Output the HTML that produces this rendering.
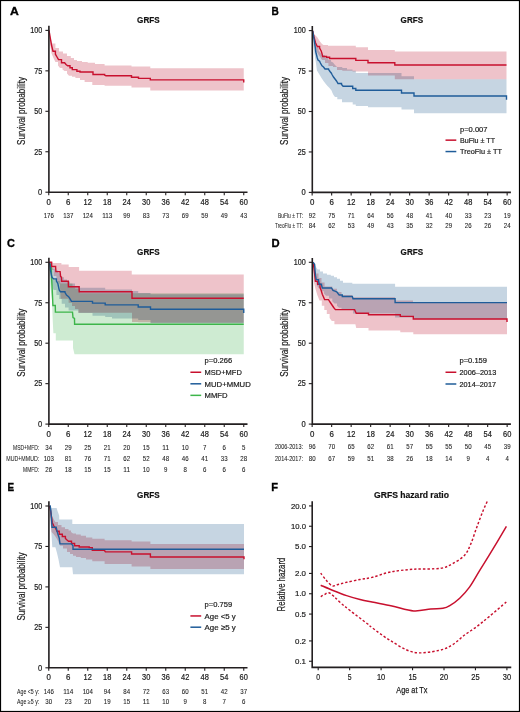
<!DOCTYPE html><html><head><meta charset="utf-8"><style>html,body{margin:0;padding:0;background:#fff}svg{display:block}text{font-family:"Liberation Sans",sans-serif}</style></head><body>
<svg width="520" height="712" viewBox="0 0 520 712">
<rect x="0" y="0" width="520" height="712" fill="#fff"/>
<text x="10.00" y="15.40" font-size="11.77" font-weight="bold" fill="#000" stroke="#000" stroke-width="0.35" textLength="8.80" lengthAdjust="spacingAndGlyphs">A</text>
<text x="137.10" y="22.70" font-size="9.88" font-weight="bold" fill="#111" stroke="#111" stroke-width="0.20" textLength="22.50" lengthAdjust="spacingAndGlyphs">GRFS</text>
<path d="M49.00 30.40 L50.50 38.00 L52.30 43.50 L55.40 43.50 L55.40 48.00 L59.00 48.00 L59.00 51.50 L63.00 51.50 L63.00 53.50 L67.00 53.50 L67.00 56.00 L70.80 56.00 L70.80 58.00 L74.00 58.00 L74.00 60.00 L77.00 60.00 L77.00 61.00 L82.00 61.00 L82.00 62.00 L87.70 62.00 L87.70 62.70 L95.00 62.70 L95.00 64.00 L104.60 64.00 L104.60 65.50 L131.50 65.50 L131.50 66.50 L150.30 66.50 L150.30 68.30 L243.75 68.30 L243.75 68.30 L243.75 90.40 L243.75 90.40 L150.30 90.40 L150.30 87.60 L131.50 87.60 L131.50 85.80 L104.60 85.80 L104.60 85.00 L92.30 85.00 L92.30 82.00 L84.60 82.00 L84.60 80.00 L80.00 80.00 L80.00 78.00 L75.40 78.00 L75.40 76.80 L72.00 76.80 L72.00 75.80 L69.00 75.80 L67.00 73.50 L67.00 71.00 L64.60 71.00 L62.50 69.50 L62.50 68.00 L60.00 68.00 L58.00 65.50 L58.00 62.00 L55.40 62.00 L53.50 58.00 L51.50 53.50 L50.20 45.00 L49.00 30.40 Z" fill="#EEC3CA" style="mix-blend-mode:multiply"/>
<path d="M49.00 30.40L50.30 38.00L51.50 45.00L53.00 51.20H55.40V54.20L57.00 57.00L58.50 59.60H61.50V62.70H64.60V62.70L66.00 64.50L67.70 65.80H70.00V67.80H72.30V69.60H76.90V71.20H80.00V72.00H89.20V72.00H93.00V74.50H104.60V75.00L106.00 75.80H131.50V75.80H131.50V77.30H138.50V78.40H150.30V79.90H243.75V79.90H243.75V82.50" fill="none" stroke="#C8102E" stroke-width="1.40"/>
<path d="M48.90 25.80 V192.20 H247.50" fill="none" stroke="#231F20" stroke-width="1.6"/>
<path d="M45.40 30.40 H48.90" stroke="#231F20" stroke-width="1.1"/>
<text x="30.30" y="33.20" font-size="8.14" font-weight="normal" fill="#1c1c1c" stroke="#1c1c1c" stroke-width="0.20" textLength="12.00" lengthAdjust="spacingAndGlyphs">100</text>
<path d="M45.40 70.85 H48.90" stroke="#231F20" stroke-width="1.1"/>
<text x="34.30" y="73.65" font-size="8.14" font-weight="normal" fill="#1c1c1c" stroke="#1c1c1c" stroke-width="0.20" textLength="8.00" lengthAdjust="spacingAndGlyphs">75</text>
<path d="M45.40 111.30 H48.90" stroke="#231F20" stroke-width="1.1"/>
<text x="34.30" y="114.10" font-size="8.14" font-weight="normal" fill="#1c1c1c" stroke="#1c1c1c" stroke-width="0.20" textLength="8.00" lengthAdjust="spacingAndGlyphs">50</text>
<path d="M45.40 151.75 H48.90" stroke="#231F20" stroke-width="1.1"/>
<text x="34.30" y="154.55" font-size="8.14" font-weight="normal" fill="#1c1c1c" stroke="#1c1c1c" stroke-width="0.20" textLength="8.00" lengthAdjust="spacingAndGlyphs">25</text>
<path d="M45.40 192.20 H48.90" stroke="#231F20" stroke-width="1.1"/>
<text x="38.10" y="195.00" font-size="8.14" font-weight="normal" fill="#1c1c1c" stroke="#1c1c1c" stroke-width="0.20" textLength="4.20" lengthAdjust="spacingAndGlyphs">0</text>
<path d="M48.75 192.20 V195.20" stroke="#231F20" stroke-width="1.1"/>
<text x="46.55" y="204.80" font-size="8.14" font-weight="normal" fill="#1c1c1c" stroke="#1c1c1c" stroke-width="0.20" textLength="4.40" lengthAdjust="spacingAndGlyphs">0</text>
<path d="M68.25 192.20 V195.20" stroke="#231F20" stroke-width="1.1"/>
<text x="66.05" y="204.80" font-size="8.14" font-weight="normal" fill="#1c1c1c" stroke="#1c1c1c" stroke-width="0.20" textLength="4.40" lengthAdjust="spacingAndGlyphs">6</text>
<path d="M87.75 192.20 V195.20" stroke="#231F20" stroke-width="1.1"/>
<text x="83.60" y="204.80" font-size="8.14" font-weight="normal" fill="#1c1c1c" stroke="#1c1c1c" stroke-width="0.20" textLength="8.30" lengthAdjust="spacingAndGlyphs">12</text>
<path d="M107.25 192.20 V195.20" stroke="#231F20" stroke-width="1.1"/>
<text x="103.10" y="204.80" font-size="8.14" font-weight="normal" fill="#1c1c1c" stroke="#1c1c1c" stroke-width="0.20" textLength="8.30" lengthAdjust="spacingAndGlyphs">18</text>
<path d="M126.75 192.20 V195.20" stroke="#231F20" stroke-width="1.1"/>
<text x="122.60" y="204.80" font-size="8.14" font-weight="normal" fill="#1c1c1c" stroke="#1c1c1c" stroke-width="0.20" textLength="8.30" lengthAdjust="spacingAndGlyphs">24</text>
<path d="M146.25 192.20 V195.20" stroke="#231F20" stroke-width="1.1"/>
<text x="142.10" y="204.80" font-size="8.14" font-weight="normal" fill="#1c1c1c" stroke="#1c1c1c" stroke-width="0.20" textLength="8.30" lengthAdjust="spacingAndGlyphs">30</text>
<path d="M165.75 192.20 V195.20" stroke="#231F20" stroke-width="1.1"/>
<text x="161.60" y="204.80" font-size="8.14" font-weight="normal" fill="#1c1c1c" stroke="#1c1c1c" stroke-width="0.20" textLength="8.30" lengthAdjust="spacingAndGlyphs">36</text>
<path d="M185.25 192.20 V195.20" stroke="#231F20" stroke-width="1.1"/>
<text x="181.10" y="204.80" font-size="8.14" font-weight="normal" fill="#1c1c1c" stroke="#1c1c1c" stroke-width="0.20" textLength="8.30" lengthAdjust="spacingAndGlyphs">42</text>
<path d="M204.75 192.20 V195.20" stroke="#231F20" stroke-width="1.1"/>
<text x="200.60" y="204.80" font-size="8.14" font-weight="normal" fill="#1c1c1c" stroke="#1c1c1c" stroke-width="0.20" textLength="8.30" lengthAdjust="spacingAndGlyphs">48</text>
<path d="M224.25 192.20 V195.20" stroke="#231F20" stroke-width="1.1"/>
<text x="220.10" y="204.80" font-size="8.14" font-weight="normal" fill="#1c1c1c" stroke="#1c1c1c" stroke-width="0.20" textLength="8.30" lengthAdjust="spacingAndGlyphs">54</text>
<path d="M243.75 192.20 V195.20" stroke="#231F20" stroke-width="1.1"/>
<text x="239.60" y="204.80" font-size="8.14" font-weight="normal" fill="#1c1c1c" stroke="#1c1c1c" stroke-width="0.20" textLength="8.30" lengthAdjust="spacingAndGlyphs">60</text>
<text transform="translate(24.60 145.00) rotate(-90)" x="0" y="0" font-size="10.17" fill="#1c1c1c" stroke="#1c1c1c" stroke-width="0.20" textLength="68.10" lengthAdjust="spacingAndGlyphs">Survival probability</text>
<text x="43.65" y="217.90" font-size="6.69" font-weight="normal" fill="#1c1c1c" stroke="#1c1c1c" stroke-width="0.08" textLength="10.20" lengthAdjust="spacingAndGlyphs">176</text>
<text x="63.15" y="217.90" font-size="6.69" font-weight="normal" fill="#1c1c1c" stroke="#1c1c1c" stroke-width="0.08" textLength="10.20" lengthAdjust="spacingAndGlyphs">137</text>
<text x="82.65" y="217.90" font-size="6.69" font-weight="normal" fill="#1c1c1c" stroke="#1c1c1c" stroke-width="0.08" textLength="10.20" lengthAdjust="spacingAndGlyphs">124</text>
<text x="102.15" y="217.90" font-size="6.69" font-weight="normal" fill="#1c1c1c" stroke="#1c1c1c" stroke-width="0.08" textLength="10.20" lengthAdjust="spacingAndGlyphs">113</text>
<text x="123.35" y="217.90" font-size="6.69" font-weight="normal" fill="#1c1c1c" stroke="#1c1c1c" stroke-width="0.08" textLength="6.80" lengthAdjust="spacingAndGlyphs">99</text>
<text x="142.85" y="217.90" font-size="6.69" font-weight="normal" fill="#1c1c1c" stroke="#1c1c1c" stroke-width="0.08" textLength="6.80" lengthAdjust="spacingAndGlyphs">83</text>
<text x="162.35" y="217.90" font-size="6.69" font-weight="normal" fill="#1c1c1c" stroke="#1c1c1c" stroke-width="0.08" textLength="6.80" lengthAdjust="spacingAndGlyphs">73</text>
<text x="181.85" y="217.90" font-size="6.69" font-weight="normal" fill="#1c1c1c" stroke="#1c1c1c" stroke-width="0.08" textLength="6.80" lengthAdjust="spacingAndGlyphs">69</text>
<text x="201.35" y="217.90" font-size="6.69" font-weight="normal" fill="#1c1c1c" stroke="#1c1c1c" stroke-width="0.08" textLength="6.80" lengthAdjust="spacingAndGlyphs">59</text>
<text x="220.85" y="217.90" font-size="6.69" font-weight="normal" fill="#1c1c1c" stroke="#1c1c1c" stroke-width="0.08" textLength="6.80" lengthAdjust="spacingAndGlyphs">49</text>
<text x="240.35" y="217.90" font-size="6.69" font-weight="normal" fill="#1c1c1c" stroke="#1c1c1c" stroke-width="0.08" textLength="6.80" lengthAdjust="spacingAndGlyphs">43</text>
<text x="271.50" y="15.20" font-size="11.77" font-weight="bold" fill="#000" stroke="#000" stroke-width="0.35" textLength="7.30" lengthAdjust="spacingAndGlyphs">B</text>
<text x="400.60" y="22.70" font-size="9.88" font-weight="bold" fill="#111" stroke="#111" stroke-width="0.20" textLength="22.50" lengthAdjust="spacingAndGlyphs">GRFS</text>
<path d="M312.70 30.80 L313.50 34.00 L315.50 35.50 L317.30 37.30 L319.00 40.00 L320.40 42.00 L322.00 44.00 L323.50 45.00 L328.00 45.00 L328.00 45.80 L355.80 45.80 L355.80 47.30 L368.00 47.30 L368.00 50.00 L394.80 50.00 L394.80 51.60 L506.50 51.60 L506.50 51.60 L506.50 79.20 L506.50 79.20 L394.80 79.20 L394.80 75.40 L368.00 75.40 L368.00 71.50 L352.50 71.50 L352.50 70.80 L342.30 70.80 L342.30 70.00 L337.00 70.00 L337.00 67.00 L333.00 67.00 L333.00 66.00 L328.40 66.00 L328.40 63.00 L325.00 63.00 L325.00 60.00 L322.00 60.00 L319.80 56.50 L318.00 54.00 L316.00 50.00 L315.00 47.00 L314.20 40.00 L312.70 30.80 Z" fill="#EEC3CA" style="mix-blend-mode:multiply"/>
<path d="M312.70 30.80 L314.50 38.00 L316.30 46.90 L318.60 46.90 L318.60 50.80 L319.80 52.00 L322.00 55.00 L325.00 55.00 L325.00 58.00 L328.40 58.00 L328.40 60.00 L331.00 60.00 L331.00 61.50 L333.00 62.50 L335.00 65.00 L337.00 67.00 L342.30 67.00 L342.30 68.00 L347.00 68.00 L347.00 69.50 L352.50 69.50 L352.50 70.80 L355.80 70.80 L355.80 73.10 L401.50 73.10 L401.50 76.20 L414.00 76.20 L414.00 79.20 L506.50 79.20 L506.50 79.20 L506.50 113.20 L506.50 113.20 L414.00 113.20 L414.00 109.50 L401.50 109.50 L401.50 107.30 L368.00 107.30 L368.00 106.00 L355.80 106.00 L355.80 104.60 L352.70 104.60 L352.70 102.30 L342.00 102.30 L342.00 99.20 L337.30 99.20 L337.30 97.00 L335.00 97.00 L333.50 95.00 L332.50 93.00 L331.50 90.40 L329.50 88.00 L327.50 86.00 L325.40 83.50 L323.50 81.00 L321.50 78.00 L320.00 75.50 L318.50 73.00 L316.90 70.40 L316.20 65.00 L315.40 59.60 L314.20 52.00 L313.30 45.00 L312.70 30.80 Z" fill="#C6D5E2" style="mix-blend-mode:multiply"/>
<path d="M312.70 30.80L314.00 37.00L315.50 42.70L317.30 46.50H319.60V48.00L321.20 51.00L322.10 54.00L322.70 56.50H326.50V57.30H329.60V58.50H355.80V60.40H368.00V62.80H394.80V65.00H506.50V65.00" fill="none" stroke="#C8102E" stroke-width="1.40"/>
<path d="M312.70 30.80L313.60 36.00L314.50 41.90L315.20 47.00L315.80 52.00L317.30 58.00L318.00 60.00L319.60 61.20L320.40 63.00L322.00 65.80L323.50 67.00L325.00 69.00H328.50V69.30L330.00 71.50L331.20 73.00L332.30 75.00L333.50 77.00L335.00 79.00L336.50 81.00L338.00 83.50H341.50V84.50L343.10 86.30H352.70V88.50H355.80V90.20H401.50V93.00H414.00V96.00H506.50V96.00H506.50V99.80" fill="none" stroke="#1F5C99" stroke-width="1.40"/>
<path d="M312.30 26.00 V192.40 H510.90" fill="none" stroke="#231F20" stroke-width="1.6"/>
<path d="M308.80 30.60 H312.30" stroke="#231F20" stroke-width="1.1"/>
<text x="293.70" y="33.40" font-size="8.14" font-weight="normal" fill="#1c1c1c" stroke="#1c1c1c" stroke-width="0.20" textLength="12.00" lengthAdjust="spacingAndGlyphs">100</text>
<path d="M308.80 71.05 H312.30" stroke="#231F20" stroke-width="1.1"/>
<text x="297.70" y="73.85" font-size="8.14" font-weight="normal" fill="#1c1c1c" stroke="#1c1c1c" stroke-width="0.20" textLength="8.00" lengthAdjust="spacingAndGlyphs">75</text>
<path d="M308.80 111.50 H312.30" stroke="#231F20" stroke-width="1.1"/>
<text x="297.70" y="114.30" font-size="8.14" font-weight="normal" fill="#1c1c1c" stroke="#1c1c1c" stroke-width="0.20" textLength="8.00" lengthAdjust="spacingAndGlyphs">50</text>
<path d="M308.80 151.95 H312.30" stroke="#231F20" stroke-width="1.1"/>
<text x="297.70" y="154.75" font-size="8.14" font-weight="normal" fill="#1c1c1c" stroke="#1c1c1c" stroke-width="0.20" textLength="8.00" lengthAdjust="spacingAndGlyphs">25</text>
<path d="M308.80 192.40 H312.30" stroke="#231F20" stroke-width="1.1"/>
<text x="301.50" y="195.20" font-size="8.14" font-weight="normal" fill="#1c1c1c" stroke="#1c1c1c" stroke-width="0.20" textLength="4.20" lengthAdjust="spacingAndGlyphs">0</text>
<path d="M312.15 192.40 V195.40" stroke="#231F20" stroke-width="1.1"/>
<text x="309.95" y="205.00" font-size="8.14" font-weight="normal" fill="#1c1c1c" stroke="#1c1c1c" stroke-width="0.20" textLength="4.40" lengthAdjust="spacingAndGlyphs">0</text>
<path d="M331.65 192.40 V195.40" stroke="#231F20" stroke-width="1.1"/>
<text x="329.45" y="205.00" font-size="8.14" font-weight="normal" fill="#1c1c1c" stroke="#1c1c1c" stroke-width="0.20" textLength="4.40" lengthAdjust="spacingAndGlyphs">6</text>
<path d="M351.15 192.40 V195.40" stroke="#231F20" stroke-width="1.1"/>
<text x="347.00" y="205.00" font-size="8.14" font-weight="normal" fill="#1c1c1c" stroke="#1c1c1c" stroke-width="0.20" textLength="8.30" lengthAdjust="spacingAndGlyphs">12</text>
<path d="M370.65 192.40 V195.40" stroke="#231F20" stroke-width="1.1"/>
<text x="366.50" y="205.00" font-size="8.14" font-weight="normal" fill="#1c1c1c" stroke="#1c1c1c" stroke-width="0.20" textLength="8.30" lengthAdjust="spacingAndGlyphs">18</text>
<path d="M390.15 192.40 V195.40" stroke="#231F20" stroke-width="1.1"/>
<text x="386.00" y="205.00" font-size="8.14" font-weight="normal" fill="#1c1c1c" stroke="#1c1c1c" stroke-width="0.20" textLength="8.30" lengthAdjust="spacingAndGlyphs">24</text>
<path d="M409.65 192.40 V195.40" stroke="#231F20" stroke-width="1.1"/>
<text x="405.50" y="205.00" font-size="8.14" font-weight="normal" fill="#1c1c1c" stroke="#1c1c1c" stroke-width="0.20" textLength="8.30" lengthAdjust="spacingAndGlyphs">30</text>
<path d="M429.15 192.40 V195.40" stroke="#231F20" stroke-width="1.1"/>
<text x="425.00" y="205.00" font-size="8.14" font-weight="normal" fill="#1c1c1c" stroke="#1c1c1c" stroke-width="0.20" textLength="8.30" lengthAdjust="spacingAndGlyphs">36</text>
<path d="M448.65 192.40 V195.40" stroke="#231F20" stroke-width="1.1"/>
<text x="444.50" y="205.00" font-size="8.14" font-weight="normal" fill="#1c1c1c" stroke="#1c1c1c" stroke-width="0.20" textLength="8.30" lengthAdjust="spacingAndGlyphs">42</text>
<path d="M468.15 192.40 V195.40" stroke="#231F20" stroke-width="1.1"/>
<text x="464.00" y="205.00" font-size="8.14" font-weight="normal" fill="#1c1c1c" stroke="#1c1c1c" stroke-width="0.20" textLength="8.30" lengthAdjust="spacingAndGlyphs">48</text>
<path d="M487.65 192.40 V195.40" stroke="#231F20" stroke-width="1.1"/>
<text x="483.50" y="205.00" font-size="8.14" font-weight="normal" fill="#1c1c1c" stroke="#1c1c1c" stroke-width="0.20" textLength="8.30" lengthAdjust="spacingAndGlyphs">54</text>
<path d="M507.15 192.40 V195.40" stroke="#231F20" stroke-width="1.1"/>
<text x="503.00" y="205.00" font-size="8.14" font-weight="normal" fill="#1c1c1c" stroke="#1c1c1c" stroke-width="0.20" textLength="8.30" lengthAdjust="spacingAndGlyphs">60</text>
<text transform="translate(288.00 145.00) rotate(-90)" x="0" y="0" font-size="10.17" fill="#1c1c1c" stroke="#1c1c1c" stroke-width="0.20" textLength="68.10" lengthAdjust="spacingAndGlyphs">Survival probability</text>
<text x="460.00" y="131.50" font-size="7.56" font-weight="normal" fill="#1c1c1c" stroke="#1c1c1c" stroke-width="0.20" textLength="27.50" lengthAdjust="spacingAndGlyphs">p=0.007</text>
<path d="M445.50 140.15 H456.30" stroke="#C8102E" stroke-width="1.5"/>
<text x="460.00" y="142.90" font-size="7.70" font-weight="normal" fill="#1c1c1c" stroke="#1c1c1c" stroke-width="0.20" textLength="35.00" lengthAdjust="spacingAndGlyphs">BuFlu ± TT</text>
<path d="M445.50 151.55 H456.30" stroke="#1F5C99" stroke-width="1.5"/>
<text x="460.00" y="154.30" font-size="7.70" font-weight="normal" fill="#1c1c1c" stroke="#1c1c1c" stroke-width="0.20" textLength="41.90" lengthAdjust="spacingAndGlyphs">TreoFlu ± TT</text>
<text x="308.75" y="217.90" font-size="6.69" font-weight="normal" fill="#1c1c1c" stroke="#1c1c1c" stroke-width="0.08" textLength="6.80" lengthAdjust="spacingAndGlyphs">92</text>
<text x="328.25" y="217.90" font-size="6.69" font-weight="normal" fill="#1c1c1c" stroke="#1c1c1c" stroke-width="0.08" textLength="6.80" lengthAdjust="spacingAndGlyphs">75</text>
<text x="347.75" y="217.90" font-size="6.69" font-weight="normal" fill="#1c1c1c" stroke="#1c1c1c" stroke-width="0.08" textLength="6.80" lengthAdjust="spacingAndGlyphs">71</text>
<text x="367.25" y="217.90" font-size="6.69" font-weight="normal" fill="#1c1c1c" stroke="#1c1c1c" stroke-width="0.08" textLength="6.80" lengthAdjust="spacingAndGlyphs">64</text>
<text x="386.75" y="217.90" font-size="6.69" font-weight="normal" fill="#1c1c1c" stroke="#1c1c1c" stroke-width="0.08" textLength="6.80" lengthAdjust="spacingAndGlyphs">56</text>
<text x="406.25" y="217.90" font-size="6.69" font-weight="normal" fill="#1c1c1c" stroke="#1c1c1c" stroke-width="0.08" textLength="6.80" lengthAdjust="spacingAndGlyphs">48</text>
<text x="425.75" y="217.90" font-size="6.69" font-weight="normal" fill="#1c1c1c" stroke="#1c1c1c" stroke-width="0.08" textLength="6.80" lengthAdjust="spacingAndGlyphs">41</text>
<text x="445.25" y="217.90" font-size="6.69" font-weight="normal" fill="#1c1c1c" stroke="#1c1c1c" stroke-width="0.08" textLength="6.80" lengthAdjust="spacingAndGlyphs">40</text>
<text x="464.75" y="217.90" font-size="6.69" font-weight="normal" fill="#1c1c1c" stroke="#1c1c1c" stroke-width="0.08" textLength="6.80" lengthAdjust="spacingAndGlyphs">33</text>
<text x="484.25" y="217.90" font-size="6.69" font-weight="normal" fill="#1c1c1c" stroke="#1c1c1c" stroke-width="0.08" textLength="6.80" lengthAdjust="spacingAndGlyphs">23</text>
<text x="503.75" y="217.90" font-size="6.69" font-weight="normal" fill="#1c1c1c" stroke="#1c1c1c" stroke-width="0.08" textLength="6.80" lengthAdjust="spacingAndGlyphs">19</text>
<text x="278.00" y="217.90" font-size="6.35" font-weight="normal" fill="#1c1c1c" stroke="#1c1c1c" stroke-width="0.05" textLength="25.00" lengthAdjust="spacingAndGlyphs">BuFlu ± TT:</text>
<text x="308.75" y="228.10" font-size="6.69" font-weight="normal" fill="#1c1c1c" stroke="#1c1c1c" stroke-width="0.08" textLength="6.80" lengthAdjust="spacingAndGlyphs">84</text>
<text x="328.25" y="228.10" font-size="6.69" font-weight="normal" fill="#1c1c1c" stroke="#1c1c1c" stroke-width="0.08" textLength="6.80" lengthAdjust="spacingAndGlyphs">62</text>
<text x="347.75" y="228.10" font-size="6.69" font-weight="normal" fill="#1c1c1c" stroke="#1c1c1c" stroke-width="0.08" textLength="6.80" lengthAdjust="spacingAndGlyphs">53</text>
<text x="367.25" y="228.10" font-size="6.69" font-weight="normal" fill="#1c1c1c" stroke="#1c1c1c" stroke-width="0.08" textLength="6.80" lengthAdjust="spacingAndGlyphs">49</text>
<text x="386.75" y="228.10" font-size="6.69" font-weight="normal" fill="#1c1c1c" stroke="#1c1c1c" stroke-width="0.08" textLength="6.80" lengthAdjust="spacingAndGlyphs">43</text>
<text x="406.25" y="228.10" font-size="6.69" font-weight="normal" fill="#1c1c1c" stroke="#1c1c1c" stroke-width="0.08" textLength="6.80" lengthAdjust="spacingAndGlyphs">35</text>
<text x="425.75" y="228.10" font-size="6.69" font-weight="normal" fill="#1c1c1c" stroke="#1c1c1c" stroke-width="0.08" textLength="6.80" lengthAdjust="spacingAndGlyphs">32</text>
<text x="445.25" y="228.10" font-size="6.69" font-weight="normal" fill="#1c1c1c" stroke="#1c1c1c" stroke-width="0.08" textLength="6.80" lengthAdjust="spacingAndGlyphs">29</text>
<text x="464.75" y="228.10" font-size="6.69" font-weight="normal" fill="#1c1c1c" stroke="#1c1c1c" stroke-width="0.08" textLength="6.80" lengthAdjust="spacingAndGlyphs">26</text>
<text x="484.25" y="228.10" font-size="6.69" font-weight="normal" fill="#1c1c1c" stroke="#1c1c1c" stroke-width="0.08" textLength="6.80" lengthAdjust="spacingAndGlyphs">26</text>
<text x="503.75" y="228.10" font-size="6.69" font-weight="normal" fill="#1c1c1c" stroke="#1c1c1c" stroke-width="0.08" textLength="6.80" lengthAdjust="spacingAndGlyphs">24</text>
<text x="275.00" y="228.10" font-size="6.35" font-weight="normal" fill="#1c1c1c" stroke="#1c1c1c" stroke-width="0.05" textLength="28.00" lengthAdjust="spacingAndGlyphs">TreoFlu ± TT:</text>
<text x="6.90" y="246.90" font-size="11.77" font-weight="bold" fill="#000" stroke="#000" stroke-width="0.35" textLength="7.90" lengthAdjust="spacingAndGlyphs">C</text>
<text x="137.10" y="254.50" font-size="9.88" font-weight="bold" fill="#111" stroke="#111" stroke-width="0.20" textLength="22.50" lengthAdjust="spacingAndGlyphs">GRFS</text>
<path d="M49.00 262.20 L50.50 262.60 L52.90 262.60 L52.90 263.00 L61.40 263.00 L61.40 264.50 L68.70 264.50 L68.70 267.10 L79.10 267.10 L79.10 270.70 L131.75 270.70 L131.75 274.50 L243.75 274.50 L243.75 274.50 L243.75 322.70 L243.75 322.70 L150.50 322.70 L150.50 322.30 L138.20 322.30 L138.20 322.00 L132.00 322.00 L132.00 312.70 L78.40 312.70 L78.40 309.00 L75.00 309.00 L75.00 306.00 L72.00 306.00 L72.00 302.80 L68.60 302.80 L68.60 298.80 L60.70 298.80 L59.80 284.00 L58.00 282.00 L56.40 280.00 L56.40 276.00 L53.60 276.00 L53.60 270.00 L51.40 270.00 L50.00 265.00 L49.00 262.20 Z" fill="#EEC3CA" style="mix-blend-mode:multiply"/>
<path d="M49.00 262.20 L50.50 264.00 L51.70 266.50 L53.00 268.50 L55.60 268.50 L55.60 270.50 L58.00 270.50 L58.00 272.50 L60.10 274.00 L61.40 277.20 L64.00 277.20 L64.00 279.50 L67.00 279.50 L67.00 281.50 L70.00 281.50 L70.00 283.50 L75.00 283.50 L75.00 286.00 L80.00 286.00 L80.00 287.70 L92.50 287.70 L92.50 287.70 L105.20 287.70 L105.20 289.60 L132.00 289.60 L132.00 291.00 L138.20 291.00 L138.20 293.00 L150.50 293.00 L150.50 294.20 L243.75 294.20 L243.75 294.20 L243.75 323.20 L243.75 323.20 L150.50 323.20 L150.50 320.00 L138.20 320.00 L138.20 318.50 L112.00 318.50 L112.00 317.00 L105.20 317.00 L105.20 315.80 L92.50 315.80 L92.50 313.00 L78.40 313.00 L78.40 310.60 L68.60 310.60 L68.60 307.50 L65.00 307.50 L65.00 303.80 L61.70 303.80 L61.70 299.00 L59.20 299.00 L59.20 295.00 L56.40 295.00 L56.40 290.00 L53.60 290.00 L51.90 285.00 L50.60 278.00 L49.80 270.00 L49.00 262.20 Z" fill="#C6D5E2" style="mix-blend-mode:multiply"/>
<path d="M49.00 262.20 L50.50 268.00 L51.90 275.00 L53.60 279.00 L56.40 279.00 L56.40 281.00 L59.80 281.00 L59.80 283.00 L60.60 283.40 L72.50 283.40 L72.50 287.20 L75.20 287.20 L75.20 288.80 L80.00 288.80 L80.00 293.30 L243.75 293.30 L243.75 294.00 L243.75 354.30 L243.75 354.30 L74.50 354.30 L73.00 348.00 L73.00 340.60 L55.80 340.60 L55.80 333.20 L53.40 333.20 L52.80 322.00 L52.30 310.00 L51.90 299.80 L51.20 294.00 L50.50 287.00 L49.80 275.00 L49.00 262.20 Z" fill="#CEEBD2" style="mix-blend-mode:multiply"/>
<path d="M49.20 262.20L50.00 264.00L51.40 268.20L51.70 278.90L52.50 295.70L52.90 305.50H55.30V305.70L55.40 312.10H72.50V312.10L73.00 317.50L74.50 318.50L74.60 324.20H243.75V324.20" fill="none" stroke="#3DB54A" stroke-width="1.40"/>
<path d="M49.20 262.20L49.70 262.50L50.50 270.40L51.90 277.20L53.60 278.90H56.40V281.10L57.80 283.30L59.20 290.00L60.40 291.80H64.90V292.30L66.50 295.10L68.00 296.30L69.00 297.20L70.20 299.20L71.50 301.40H92.50V303.10H105.20V304.90H138.20V307.00H150.50V309.20H243.75V309.20H243.75V313.00" fill="none" stroke="#1F5C99" stroke-width="1.40"/>
<path d="M49.20 262.20H51.60V262.20L51.70 266.50H55.60V266.80L55.90 271.60H60.10V271.60L60.60 276.60L61.50 277.20L61.60 281.20H68.30V281.20L68.40 286.80H79.10V286.80L79.20 291.70H132.00V291.70H132.00V298.30H243.75V298.30" fill="none" stroke="#C8102E" stroke-width="1.40"/>
<path d="M48.90 257.70 V424.10 H247.50" fill="none" stroke="#231F20" stroke-width="1.6"/>
<path d="M45.40 262.30 H48.90" stroke="#231F20" stroke-width="1.1"/>
<text x="30.30" y="265.10" font-size="8.14" font-weight="normal" fill="#1c1c1c" stroke="#1c1c1c" stroke-width="0.20" textLength="12.00" lengthAdjust="spacingAndGlyphs">100</text>
<path d="M45.40 302.75 H48.90" stroke="#231F20" stroke-width="1.1"/>
<text x="34.30" y="305.55" font-size="8.14" font-weight="normal" fill="#1c1c1c" stroke="#1c1c1c" stroke-width="0.20" textLength="8.00" lengthAdjust="spacingAndGlyphs">75</text>
<path d="M45.40 343.20 H48.90" stroke="#231F20" stroke-width="1.1"/>
<text x="34.30" y="346.00" font-size="8.14" font-weight="normal" fill="#1c1c1c" stroke="#1c1c1c" stroke-width="0.20" textLength="8.00" lengthAdjust="spacingAndGlyphs">50</text>
<path d="M45.40 383.65 H48.90" stroke="#231F20" stroke-width="1.1"/>
<text x="34.30" y="386.45" font-size="8.14" font-weight="normal" fill="#1c1c1c" stroke="#1c1c1c" stroke-width="0.20" textLength="8.00" lengthAdjust="spacingAndGlyphs">25</text>
<path d="M45.40 424.10 H48.90" stroke="#231F20" stroke-width="1.1"/>
<text x="38.10" y="426.90" font-size="8.14" font-weight="normal" fill="#1c1c1c" stroke="#1c1c1c" stroke-width="0.20" textLength="4.20" lengthAdjust="spacingAndGlyphs">0</text>
<path d="M48.75 424.10 V427.10" stroke="#231F20" stroke-width="1.1"/>
<text x="46.55" y="436.70" font-size="8.14" font-weight="normal" fill="#1c1c1c" stroke="#1c1c1c" stroke-width="0.20" textLength="4.40" lengthAdjust="spacingAndGlyphs">0</text>
<path d="M68.25 424.10 V427.10" stroke="#231F20" stroke-width="1.1"/>
<text x="66.05" y="436.70" font-size="8.14" font-weight="normal" fill="#1c1c1c" stroke="#1c1c1c" stroke-width="0.20" textLength="4.40" lengthAdjust="spacingAndGlyphs">6</text>
<path d="M87.75 424.10 V427.10" stroke="#231F20" stroke-width="1.1"/>
<text x="83.60" y="436.70" font-size="8.14" font-weight="normal" fill="#1c1c1c" stroke="#1c1c1c" stroke-width="0.20" textLength="8.30" lengthAdjust="spacingAndGlyphs">12</text>
<path d="M107.25 424.10 V427.10" stroke="#231F20" stroke-width="1.1"/>
<text x="103.10" y="436.70" font-size="8.14" font-weight="normal" fill="#1c1c1c" stroke="#1c1c1c" stroke-width="0.20" textLength="8.30" lengthAdjust="spacingAndGlyphs">18</text>
<path d="M126.75 424.10 V427.10" stroke="#231F20" stroke-width="1.1"/>
<text x="122.60" y="436.70" font-size="8.14" font-weight="normal" fill="#1c1c1c" stroke="#1c1c1c" stroke-width="0.20" textLength="8.30" lengthAdjust="spacingAndGlyphs">24</text>
<path d="M146.25 424.10 V427.10" stroke="#231F20" stroke-width="1.1"/>
<text x="142.10" y="436.70" font-size="8.14" font-weight="normal" fill="#1c1c1c" stroke="#1c1c1c" stroke-width="0.20" textLength="8.30" lengthAdjust="spacingAndGlyphs">30</text>
<path d="M165.75 424.10 V427.10" stroke="#231F20" stroke-width="1.1"/>
<text x="161.60" y="436.70" font-size="8.14" font-weight="normal" fill="#1c1c1c" stroke="#1c1c1c" stroke-width="0.20" textLength="8.30" lengthAdjust="spacingAndGlyphs">36</text>
<path d="M185.25 424.10 V427.10" stroke="#231F20" stroke-width="1.1"/>
<text x="181.10" y="436.70" font-size="8.14" font-weight="normal" fill="#1c1c1c" stroke="#1c1c1c" stroke-width="0.20" textLength="8.30" lengthAdjust="spacingAndGlyphs">42</text>
<path d="M204.75 424.10 V427.10" stroke="#231F20" stroke-width="1.1"/>
<text x="200.60" y="436.70" font-size="8.14" font-weight="normal" fill="#1c1c1c" stroke="#1c1c1c" stroke-width="0.20" textLength="8.30" lengthAdjust="spacingAndGlyphs">48</text>
<path d="M224.25 424.10 V427.10" stroke="#231F20" stroke-width="1.1"/>
<text x="220.10" y="436.70" font-size="8.14" font-weight="normal" fill="#1c1c1c" stroke="#1c1c1c" stroke-width="0.20" textLength="8.30" lengthAdjust="spacingAndGlyphs">54</text>
<path d="M243.75 424.10 V427.10" stroke="#231F20" stroke-width="1.1"/>
<text x="239.60" y="436.70" font-size="8.14" font-weight="normal" fill="#1c1c1c" stroke="#1c1c1c" stroke-width="0.20" textLength="8.30" lengthAdjust="spacingAndGlyphs">60</text>
<text transform="translate(24.60 376.80) rotate(-90)" x="0" y="0" font-size="10.17" fill="#1c1c1c" stroke="#1c1c1c" stroke-width="0.20" textLength="68.10" lengthAdjust="spacingAndGlyphs">Survival probability</text>
<text x="204.60" y="363.45" font-size="7.56" font-weight="normal" fill="#1c1c1c" stroke="#1c1c1c" stroke-width="0.20" textLength="27.50" lengthAdjust="spacingAndGlyphs">p=0.266</text>
<path d="M190.40 372.25 H201.20" stroke="#C8102E" stroke-width="1.5"/>
<text x="204.60" y="375.00" font-size="7.70" font-weight="normal" fill="#1c1c1c" stroke="#1c1c1c" stroke-width="0.20" textLength="37.20" lengthAdjust="spacingAndGlyphs">MSD+MFD</text>
<path d="M190.40 383.80 H201.20" stroke="#1F5C99" stroke-width="1.5"/>
<text x="204.60" y="386.55" font-size="7.70" font-weight="normal" fill="#1c1c1c" stroke="#1c1c1c" stroke-width="0.20" textLength="46.20" lengthAdjust="spacingAndGlyphs">MUD+MMUD</text>
<path d="M190.40 395.35 H201.20" stroke="#3DB54A" stroke-width="1.5"/>
<text x="204.60" y="398.10" font-size="7.70" font-weight="normal" fill="#1c1c1c" stroke="#1c1c1c" stroke-width="0.20" textLength="23.00" lengthAdjust="spacingAndGlyphs">MMFD</text>
<text x="45.35" y="449.80" font-size="6.69" font-weight="normal" fill="#1c1c1c" stroke="#1c1c1c" stroke-width="0.08" textLength="6.80" lengthAdjust="spacingAndGlyphs">34</text>
<text x="64.85" y="449.80" font-size="6.69" font-weight="normal" fill="#1c1c1c" stroke="#1c1c1c" stroke-width="0.08" textLength="6.80" lengthAdjust="spacingAndGlyphs">29</text>
<text x="84.35" y="449.80" font-size="6.69" font-weight="normal" fill="#1c1c1c" stroke="#1c1c1c" stroke-width="0.08" textLength="6.80" lengthAdjust="spacingAndGlyphs">25</text>
<text x="103.85" y="449.80" font-size="6.69" font-weight="normal" fill="#1c1c1c" stroke="#1c1c1c" stroke-width="0.08" textLength="6.80" lengthAdjust="spacingAndGlyphs">21</text>
<text x="123.35" y="449.80" font-size="6.69" font-weight="normal" fill="#1c1c1c" stroke="#1c1c1c" stroke-width="0.08" textLength="6.80" lengthAdjust="spacingAndGlyphs">20</text>
<text x="142.85" y="449.80" font-size="6.69" font-weight="normal" fill="#1c1c1c" stroke="#1c1c1c" stroke-width="0.08" textLength="6.80" lengthAdjust="spacingAndGlyphs">15</text>
<text x="162.35" y="449.80" font-size="6.69" font-weight="normal" fill="#1c1c1c" stroke="#1c1c1c" stroke-width="0.08" textLength="6.80" lengthAdjust="spacingAndGlyphs">11</text>
<text x="181.85" y="449.80" font-size="6.69" font-weight="normal" fill="#1c1c1c" stroke="#1c1c1c" stroke-width="0.08" textLength="6.80" lengthAdjust="spacingAndGlyphs">10</text>
<text x="203.05" y="449.80" font-size="6.69" font-weight="normal" fill="#1c1c1c" stroke="#1c1c1c" stroke-width="0.08" textLength="3.40" lengthAdjust="spacingAndGlyphs">7</text>
<text x="222.55" y="449.80" font-size="6.69" font-weight="normal" fill="#1c1c1c" stroke="#1c1c1c" stroke-width="0.08" textLength="3.40" lengthAdjust="spacingAndGlyphs">6</text>
<text x="242.05" y="449.80" font-size="6.69" font-weight="normal" fill="#1c1c1c" stroke="#1c1c1c" stroke-width="0.08" textLength="3.40" lengthAdjust="spacingAndGlyphs">5</text>
<text x="13.00" y="449.80" font-size="6.35" font-weight="normal" fill="#1c1c1c" stroke="#1c1c1c" stroke-width="0.05" textLength="26.25" lengthAdjust="spacingAndGlyphs">MSD+MFD:</text>
<text x="43.65" y="460.60" font-size="6.69" font-weight="normal" fill="#1c1c1c" stroke="#1c1c1c" stroke-width="0.08" textLength="10.20" lengthAdjust="spacingAndGlyphs">103</text>
<text x="64.85" y="460.60" font-size="6.69" font-weight="normal" fill="#1c1c1c" stroke="#1c1c1c" stroke-width="0.08" textLength="6.80" lengthAdjust="spacingAndGlyphs">81</text>
<text x="84.35" y="460.60" font-size="6.69" font-weight="normal" fill="#1c1c1c" stroke="#1c1c1c" stroke-width="0.08" textLength="6.80" lengthAdjust="spacingAndGlyphs">76</text>
<text x="103.85" y="460.60" font-size="6.69" font-weight="normal" fill="#1c1c1c" stroke="#1c1c1c" stroke-width="0.08" textLength="6.80" lengthAdjust="spacingAndGlyphs">71</text>
<text x="123.35" y="460.60" font-size="6.69" font-weight="normal" fill="#1c1c1c" stroke="#1c1c1c" stroke-width="0.08" textLength="6.80" lengthAdjust="spacingAndGlyphs">62</text>
<text x="142.85" y="460.60" font-size="6.69" font-weight="normal" fill="#1c1c1c" stroke="#1c1c1c" stroke-width="0.08" textLength="6.80" lengthAdjust="spacingAndGlyphs">52</text>
<text x="162.35" y="460.60" font-size="6.69" font-weight="normal" fill="#1c1c1c" stroke="#1c1c1c" stroke-width="0.08" textLength="6.80" lengthAdjust="spacingAndGlyphs">48</text>
<text x="181.85" y="460.60" font-size="6.69" font-weight="normal" fill="#1c1c1c" stroke="#1c1c1c" stroke-width="0.08" textLength="6.80" lengthAdjust="spacingAndGlyphs">46</text>
<text x="201.35" y="460.60" font-size="6.69" font-weight="normal" fill="#1c1c1c" stroke="#1c1c1c" stroke-width="0.08" textLength="6.80" lengthAdjust="spacingAndGlyphs">41</text>
<text x="220.85" y="460.60" font-size="6.69" font-weight="normal" fill="#1c1c1c" stroke="#1c1c1c" stroke-width="0.08" textLength="6.80" lengthAdjust="spacingAndGlyphs">33</text>
<text x="240.35" y="460.60" font-size="6.69" font-weight="normal" fill="#1c1c1c" stroke="#1c1c1c" stroke-width="0.08" textLength="6.80" lengthAdjust="spacingAndGlyphs">28</text>
<text x="6.25" y="460.60" font-size="6.35" font-weight="normal" fill="#1c1c1c" stroke="#1c1c1c" stroke-width="0.05" textLength="33.00" lengthAdjust="spacingAndGlyphs">MUD+MMUD:</text>
<text x="45.35" y="471.80" font-size="6.69" font-weight="normal" fill="#1c1c1c" stroke="#1c1c1c" stroke-width="0.08" textLength="6.80" lengthAdjust="spacingAndGlyphs">26</text>
<text x="64.85" y="471.80" font-size="6.69" font-weight="normal" fill="#1c1c1c" stroke="#1c1c1c" stroke-width="0.08" textLength="6.80" lengthAdjust="spacingAndGlyphs">18</text>
<text x="84.35" y="471.80" font-size="6.69" font-weight="normal" fill="#1c1c1c" stroke="#1c1c1c" stroke-width="0.08" textLength="6.80" lengthAdjust="spacingAndGlyphs">15</text>
<text x="103.85" y="471.80" font-size="6.69" font-weight="normal" fill="#1c1c1c" stroke="#1c1c1c" stroke-width="0.08" textLength="6.80" lengthAdjust="spacingAndGlyphs">15</text>
<text x="123.35" y="471.80" font-size="6.69" font-weight="normal" fill="#1c1c1c" stroke="#1c1c1c" stroke-width="0.08" textLength="6.80" lengthAdjust="spacingAndGlyphs">11</text>
<text x="142.85" y="471.80" font-size="6.69" font-weight="normal" fill="#1c1c1c" stroke="#1c1c1c" stroke-width="0.08" textLength="6.80" lengthAdjust="spacingAndGlyphs">10</text>
<text x="164.05" y="471.80" font-size="6.69" font-weight="normal" fill="#1c1c1c" stroke="#1c1c1c" stroke-width="0.08" textLength="3.40" lengthAdjust="spacingAndGlyphs">9</text>
<text x="183.55" y="471.80" font-size="6.69" font-weight="normal" fill="#1c1c1c" stroke="#1c1c1c" stroke-width="0.08" textLength="3.40" lengthAdjust="spacingAndGlyphs">8</text>
<text x="203.05" y="471.80" font-size="6.69" font-weight="normal" fill="#1c1c1c" stroke="#1c1c1c" stroke-width="0.08" textLength="3.40" lengthAdjust="spacingAndGlyphs">6</text>
<text x="222.55" y="471.80" font-size="6.69" font-weight="normal" fill="#1c1c1c" stroke="#1c1c1c" stroke-width="0.08" textLength="3.40" lengthAdjust="spacingAndGlyphs">6</text>
<text x="242.05" y="471.80" font-size="6.69" font-weight="normal" fill="#1c1c1c" stroke="#1c1c1c" stroke-width="0.08" textLength="3.40" lengthAdjust="spacingAndGlyphs">6</text>
<text x="23.00" y="471.80" font-size="6.35" font-weight="normal" fill="#1c1c1c" stroke="#1c1c1c" stroke-width="0.05" textLength="16.25" lengthAdjust="spacingAndGlyphs">MMFD:</text>
<text x="271.50" y="247.10" font-size="11.77" font-weight="bold" fill="#000" stroke="#000" stroke-width="0.35" textLength="8.10" lengthAdjust="spacingAndGlyphs">D</text>
<text x="400.60" y="254.50" font-size="9.88" font-weight="bold" fill="#111" stroke="#111" stroke-width="0.20" textLength="22.50" lengthAdjust="spacingAndGlyphs">GRFS</text>
<path d="M313.00 262.20 L315.00 265.00 L316.30 267.50 L317.70 269.60 L320.00 269.60 L320.00 271.50 L323.00 271.50 L323.00 273.50 L327.00 273.50 L327.00 274.80 L330.80 274.80 L330.80 275.80 L334.00 275.80 L334.00 277.30 L337.00 277.30 L337.00 278.80 L340.00 278.80 L340.00 280.80 L343.00 280.80 L343.00 282.70 L352.30 282.70 L352.30 283.80 L395.10 283.80 L395.10 286.70 L507.00 286.70 L507.00 286.70 L507.00 319.00 L507.00 319.00 L413.00 319.00 L413.00 317.60 L395.10 317.60 L395.10 313.50 L353.00 313.50 L353.00 309.60 L341.50 309.60 L341.50 307.80 L339.00 307.80 L337.00 305.80 L337.00 303.50 L334.50 303.50 L332.30 301.20 L332.30 298.50 L329.00 298.50 L329.00 295.80 L326.00 295.80 L324.00 293.50 L324.00 291.20 L321.50 291.20 L321.50 288.50 L319.00 288.50 L317.00 285.80 L315.80 281.50 L314.60 276.50 L313.80 270.00 L313.00 262.20 Z" fill="#C6D5E2" style="mix-blend-mode:multiply"/>
<path d="M313.00 262.20 L314.50 268.00 L316.00 273.50 L318.50 273.50 L318.50 278.00 L321.50 278.00 L321.50 282.50 L324.60 282.50 L324.60 286.50 L332.30 286.50 L332.30 288.80 L337.00 288.80 L337.00 292.00 L341.50 292.00 L341.50 295.00 L352.30 295.00 L352.30 297.30 L395.10 297.30 L395.10 300.60 L413.00 300.60 L413.00 302.00 L507.00 302.00 L507.00 302.00 L507.00 334.30 L507.00 334.30 L413.30 334.30 L413.30 332.30 L400.30 332.30 L400.30 330.50 L368.50 330.50 L368.50 328.00 L356.20 328.00 L355.40 324.20 L355.40 324.20 L334.40 324.20 L334.40 321.00 L331.80 321.00 L329.60 318.00 L329.60 314.00 L326.80 314.00 L326.80 310.00 L324.30 310.00 L324.30 305.80 L321.80 305.80 L321.80 300.50 L319.50 300.50 L317.30 295.00 L315.50 289.00 L314.00 282.70 L313.50 274.00 L313.00 262.20 Z" fill="#EEC3CA" style="mix-blend-mode:multiply"/>
<path d="M313.00 262.20L313.60 266.00L314.00 268.00L314.60 273.50L315.40 281.20H317.70V284.20H320.00V287.30L321.20 290.50L322.30 294.20L323.50 297.00L324.60 299.60H328.50V299.60L330.00 302.00L332.00 305.00L333.70 307.50L335.40 309.60H354.60V309.60L356.20 313.20H368.50V314.80H400.30V316.40H413.30V319.00H507.00V319.00H507.00V322.00" fill="none" stroke="#C8102E" stroke-width="1.40"/>
<path d="M313.00 262.20L314.60 264.20L315.00 270.00L315.40 275.00L316.20 279.60H318.50V280.40L319.20 284.20H321.50V285.00L322.30 288.00H331.50V288.00L333.00 290.40L335.00 291.20L337.00 292.00L338.00 293.50L339.20 295.00H342.30V296.50H352.30V296.50L353.00 298.80H395.10V298.80H395.10V302.60H507.00V302.60" fill="none" stroke="#1F5C99" stroke-width="1.40"/>
<path d="M312.30 257.90 V424.10 H510.90" fill="none" stroke="#231F20" stroke-width="1.6"/>
<path d="M308.80 262.30 H312.30" stroke="#231F20" stroke-width="1.1"/>
<text x="293.70" y="265.10" font-size="8.14" font-weight="normal" fill="#1c1c1c" stroke="#1c1c1c" stroke-width="0.20" textLength="12.00" lengthAdjust="spacingAndGlyphs">100</text>
<path d="M308.80 302.75 H312.30" stroke="#231F20" stroke-width="1.1"/>
<text x="297.70" y="305.55" font-size="8.14" font-weight="normal" fill="#1c1c1c" stroke="#1c1c1c" stroke-width="0.20" textLength="8.00" lengthAdjust="spacingAndGlyphs">75</text>
<path d="M308.80 343.20 H312.30" stroke="#231F20" stroke-width="1.1"/>
<text x="297.70" y="346.00" font-size="8.14" font-weight="normal" fill="#1c1c1c" stroke="#1c1c1c" stroke-width="0.20" textLength="8.00" lengthAdjust="spacingAndGlyphs">50</text>
<path d="M308.80 383.65 H312.30" stroke="#231F20" stroke-width="1.1"/>
<text x="297.70" y="386.45" font-size="8.14" font-weight="normal" fill="#1c1c1c" stroke="#1c1c1c" stroke-width="0.20" textLength="8.00" lengthAdjust="spacingAndGlyphs">25</text>
<path d="M308.80 424.10 H312.30" stroke="#231F20" stroke-width="1.1"/>
<text x="301.50" y="426.90" font-size="8.14" font-weight="normal" fill="#1c1c1c" stroke="#1c1c1c" stroke-width="0.20" textLength="4.20" lengthAdjust="spacingAndGlyphs">0</text>
<path d="M312.15 424.10 V427.10" stroke="#231F20" stroke-width="1.1"/>
<text x="309.95" y="436.70" font-size="8.14" font-weight="normal" fill="#1c1c1c" stroke="#1c1c1c" stroke-width="0.20" textLength="4.40" lengthAdjust="spacingAndGlyphs">0</text>
<path d="M331.65 424.10 V427.10" stroke="#231F20" stroke-width="1.1"/>
<text x="329.45" y="436.70" font-size="8.14" font-weight="normal" fill="#1c1c1c" stroke="#1c1c1c" stroke-width="0.20" textLength="4.40" lengthAdjust="spacingAndGlyphs">6</text>
<path d="M351.15 424.10 V427.10" stroke="#231F20" stroke-width="1.1"/>
<text x="347.00" y="436.70" font-size="8.14" font-weight="normal" fill="#1c1c1c" stroke="#1c1c1c" stroke-width="0.20" textLength="8.30" lengthAdjust="spacingAndGlyphs">12</text>
<path d="M370.65 424.10 V427.10" stroke="#231F20" stroke-width="1.1"/>
<text x="366.50" y="436.70" font-size="8.14" font-weight="normal" fill="#1c1c1c" stroke="#1c1c1c" stroke-width="0.20" textLength="8.30" lengthAdjust="spacingAndGlyphs">18</text>
<path d="M390.15 424.10 V427.10" stroke="#231F20" stroke-width="1.1"/>
<text x="386.00" y="436.70" font-size="8.14" font-weight="normal" fill="#1c1c1c" stroke="#1c1c1c" stroke-width="0.20" textLength="8.30" lengthAdjust="spacingAndGlyphs">24</text>
<path d="M409.65 424.10 V427.10" stroke="#231F20" stroke-width="1.1"/>
<text x="405.50" y="436.70" font-size="8.14" font-weight="normal" fill="#1c1c1c" stroke="#1c1c1c" stroke-width="0.20" textLength="8.30" lengthAdjust="spacingAndGlyphs">30</text>
<path d="M429.15 424.10 V427.10" stroke="#231F20" stroke-width="1.1"/>
<text x="425.00" y="436.70" font-size="8.14" font-weight="normal" fill="#1c1c1c" stroke="#1c1c1c" stroke-width="0.20" textLength="8.30" lengthAdjust="spacingAndGlyphs">36</text>
<path d="M448.65 424.10 V427.10" stroke="#231F20" stroke-width="1.1"/>
<text x="444.50" y="436.70" font-size="8.14" font-weight="normal" fill="#1c1c1c" stroke="#1c1c1c" stroke-width="0.20" textLength="8.30" lengthAdjust="spacingAndGlyphs">42</text>
<path d="M468.15 424.10 V427.10" stroke="#231F20" stroke-width="1.1"/>
<text x="464.00" y="436.70" font-size="8.14" font-weight="normal" fill="#1c1c1c" stroke="#1c1c1c" stroke-width="0.20" textLength="8.30" lengthAdjust="spacingAndGlyphs">48</text>
<path d="M487.65 424.10 V427.10" stroke="#231F20" stroke-width="1.1"/>
<text x="483.50" y="436.70" font-size="8.14" font-weight="normal" fill="#1c1c1c" stroke="#1c1c1c" stroke-width="0.20" textLength="8.30" lengthAdjust="spacingAndGlyphs">54</text>
<path d="M507.15 424.10 V427.10" stroke="#231F20" stroke-width="1.1"/>
<text x="503.00" y="436.70" font-size="8.14" font-weight="normal" fill="#1c1c1c" stroke="#1c1c1c" stroke-width="0.20" textLength="8.30" lengthAdjust="spacingAndGlyphs">60</text>
<text transform="translate(288.00 376.80) rotate(-90)" x="0" y="0" font-size="10.17" fill="#1c1c1c" stroke="#1c1c1c" stroke-width="0.20" textLength="68.10" lengthAdjust="spacingAndGlyphs">Survival probability</text>
<text x="459.50" y="363.25" font-size="7.56" font-weight="normal" fill="#1c1c1c" stroke="#1c1c1c" stroke-width="0.20" textLength="27.50" lengthAdjust="spacingAndGlyphs">p=0.159</text>
<path d="M445.50 372.25 H456.30" stroke="#C8102E" stroke-width="1.5"/>
<text x="459.50" y="375.00" font-size="7.70" font-weight="normal" fill="#1c1c1c" stroke="#1c1c1c" stroke-width="0.20" textLength="36.75" lengthAdjust="spacingAndGlyphs">2006–2013</text>
<path d="M445.50 384.00 H456.30" stroke="#1F5C99" stroke-width="1.5"/>
<text x="459.50" y="386.75" font-size="7.70" font-weight="normal" fill="#1c1c1c" stroke="#1c1c1c" stroke-width="0.20" textLength="36.50" lengthAdjust="spacingAndGlyphs">2014–2017</text>
<text x="308.75" y="449.30" font-size="6.69" font-weight="normal" fill="#1c1c1c" stroke="#1c1c1c" stroke-width="0.08" textLength="6.80" lengthAdjust="spacingAndGlyphs">96</text>
<text x="328.25" y="449.30" font-size="6.69" font-weight="normal" fill="#1c1c1c" stroke="#1c1c1c" stroke-width="0.08" textLength="6.80" lengthAdjust="spacingAndGlyphs">70</text>
<text x="347.75" y="449.30" font-size="6.69" font-weight="normal" fill="#1c1c1c" stroke="#1c1c1c" stroke-width="0.08" textLength="6.80" lengthAdjust="spacingAndGlyphs">65</text>
<text x="367.25" y="449.30" font-size="6.69" font-weight="normal" fill="#1c1c1c" stroke="#1c1c1c" stroke-width="0.08" textLength="6.80" lengthAdjust="spacingAndGlyphs">62</text>
<text x="386.75" y="449.30" font-size="6.69" font-weight="normal" fill="#1c1c1c" stroke="#1c1c1c" stroke-width="0.08" textLength="6.80" lengthAdjust="spacingAndGlyphs">61</text>
<text x="406.25" y="449.30" font-size="6.69" font-weight="normal" fill="#1c1c1c" stroke="#1c1c1c" stroke-width="0.08" textLength="6.80" lengthAdjust="spacingAndGlyphs">57</text>
<text x="425.75" y="449.30" font-size="6.69" font-weight="normal" fill="#1c1c1c" stroke="#1c1c1c" stroke-width="0.08" textLength="6.80" lengthAdjust="spacingAndGlyphs">55</text>
<text x="445.25" y="449.30" font-size="6.69" font-weight="normal" fill="#1c1c1c" stroke="#1c1c1c" stroke-width="0.08" textLength="6.80" lengthAdjust="spacingAndGlyphs">55</text>
<text x="464.75" y="449.30" font-size="6.69" font-weight="normal" fill="#1c1c1c" stroke="#1c1c1c" stroke-width="0.08" textLength="6.80" lengthAdjust="spacingAndGlyphs">50</text>
<text x="484.25" y="449.30" font-size="6.69" font-weight="normal" fill="#1c1c1c" stroke="#1c1c1c" stroke-width="0.08" textLength="6.80" lengthAdjust="spacingAndGlyphs">45</text>
<text x="503.75" y="449.30" font-size="6.69" font-weight="normal" fill="#1c1c1c" stroke="#1c1c1c" stroke-width="0.08" textLength="6.80" lengthAdjust="spacingAndGlyphs">39</text>
<text x="275.00" y="449.30" font-size="6.35" font-weight="normal" fill="#1c1c1c" stroke="#1c1c1c" stroke-width="0.05" textLength="28.00" lengthAdjust="spacingAndGlyphs">2006-2013:</text>
<text x="308.75" y="460.55" font-size="6.69" font-weight="normal" fill="#1c1c1c" stroke="#1c1c1c" stroke-width="0.08" textLength="6.80" lengthAdjust="spacingAndGlyphs">80</text>
<text x="328.25" y="460.55" font-size="6.69" font-weight="normal" fill="#1c1c1c" stroke="#1c1c1c" stroke-width="0.08" textLength="6.80" lengthAdjust="spacingAndGlyphs">67</text>
<text x="347.75" y="460.55" font-size="6.69" font-weight="normal" fill="#1c1c1c" stroke="#1c1c1c" stroke-width="0.08" textLength="6.80" lengthAdjust="spacingAndGlyphs">59</text>
<text x="367.25" y="460.55" font-size="6.69" font-weight="normal" fill="#1c1c1c" stroke="#1c1c1c" stroke-width="0.08" textLength="6.80" lengthAdjust="spacingAndGlyphs">51</text>
<text x="386.75" y="460.55" font-size="6.69" font-weight="normal" fill="#1c1c1c" stroke="#1c1c1c" stroke-width="0.08" textLength="6.80" lengthAdjust="spacingAndGlyphs">38</text>
<text x="406.25" y="460.55" font-size="6.69" font-weight="normal" fill="#1c1c1c" stroke="#1c1c1c" stroke-width="0.08" textLength="6.80" lengthAdjust="spacingAndGlyphs">26</text>
<text x="425.75" y="460.55" font-size="6.69" font-weight="normal" fill="#1c1c1c" stroke="#1c1c1c" stroke-width="0.08" textLength="6.80" lengthAdjust="spacingAndGlyphs">18</text>
<text x="445.25" y="460.55" font-size="6.69" font-weight="normal" fill="#1c1c1c" stroke="#1c1c1c" stroke-width="0.08" textLength="6.80" lengthAdjust="spacingAndGlyphs">14</text>
<text x="466.45" y="460.55" font-size="6.69" font-weight="normal" fill="#1c1c1c" stroke="#1c1c1c" stroke-width="0.08" textLength="3.40" lengthAdjust="spacingAndGlyphs">9</text>
<text x="485.95" y="460.55" font-size="6.69" font-weight="normal" fill="#1c1c1c" stroke="#1c1c1c" stroke-width="0.08" textLength="3.40" lengthAdjust="spacingAndGlyphs">4</text>
<text x="505.45" y="460.55" font-size="6.69" font-weight="normal" fill="#1c1c1c" stroke="#1c1c1c" stroke-width="0.08" textLength="3.40" lengthAdjust="spacingAndGlyphs">4</text>
<text x="275.00" y="460.55" font-size="6.35" font-weight="normal" fill="#1c1c1c" stroke="#1c1c1c" stroke-width="0.05" textLength="28.00" lengthAdjust="spacingAndGlyphs">2014-2017:</text>
<text x="7.50" y="490.90" font-size="11.77" font-weight="bold" fill="#000" stroke="#000" stroke-width="0.35" textLength="6.60" lengthAdjust="spacingAndGlyphs">E</text>
<text x="137.10" y="498.30" font-size="9.88" font-weight="bold" fill="#111" stroke="#111" stroke-width="0.20" textLength="22.50" lengthAdjust="spacingAndGlyphs">GRFS</text>
<path d="M49.50 506.00 L51.50 508.00 L56.60 508.00 L56.60 508.00 L57.50 511.00 L58.30 513.00 L59.20 515.80 L59.20 515.80 L59.20 519.60 L72.30 519.60 L72.30 519.60 L72.30 519.60 L72.30 523.90 L244.00 523.90 L244.00 523.90 L244.00 574.20 L244.00 574.20 L73.00 574.20 L72.30 567.30 L72.30 567.30 L60.00 567.30 L58.50 559.60 L57.00 553.00 L55.40 547.30 L55.40 547.30 L52.30 547.30 L51.50 535.00 L51.00 528.00 L50.50 520.00 L50.00 512.00 L49.50 506.00 Z" fill="#C6D5E2" style="mix-blend-mode:multiply"/>
<path d="M49.50 506.00 L50.30 509.00 L51.00 512.00 L52.30 516.50 L53.80 519.50 L55.40 522.00 L58.00 522.00 L58.00 525.00 L61.50 525.00 L61.50 527.30 L65.00 527.30 L65.00 529.00 L68.50 529.00 L68.50 530.40 L71.00 530.40 L71.00 532.00 L73.00 533.50 L76.00 533.50 L76.00 534.50 L80.80 534.50 L80.80 535.80 L86.00 535.80 L86.00 537.50 L92.30 537.50 L92.30 538.80 L104.60 538.80 L104.60 540.20 L131.60 540.20 L131.60 541.60 L150.40 541.60 L150.40 544.00 L244.00 544.00 L244.00 544.00 L244.00 569.00 L244.00 569.00 L150.40 569.00 L150.40 566.40 L131.60 566.40 L131.60 564.10 L104.60 564.10 L104.60 561.20 L92.30 561.20 L92.30 559.50 L86.00 559.50 L86.00 558.00 L80.80 558.00 L80.80 557.00 L76.00 557.00 L76.00 555.80 L73.00 555.80 L73.00 554.00 L70.00 554.00 L70.00 552.00 L67.00 552.00 L67.00 548.50 L63.00 548.50 L63.00 545.80 L60.00 545.80 L58.00 541.00 L57.00 539.00 L55.40 536.50 L53.50 534.00 L51.50 532.00 L50.50 522.00 L50.00 514.00 L49.50 506.00 Z" fill="#EEC3CA" style="mix-blend-mode:multiply"/>
<path d="M49.50 506.00L50.30 509.00L50.80 512.00L51.50 517.00L52.30 522.70L53.80 525.80L55.40 528.00L57.00 531.20H59.20V534.20H62.30V536.50H65.40V538.40L67.00 540.00L68.50 541.20H71.50V543.50H74.60V545.80H79.20V547.00H89.20V547.60H92.30V550.40H104.60V550.70L105.40 551.90H131.60V554.00H150.40V557.00H244.00V557.00H244.00V559.20" fill="none" stroke="#C8102E" stroke-width="1.40"/>
<path d="M49.50 506.00H50.20V506.00L50.80 510.40L51.20 515.00L51.60 520.00L52.00 527.30H56.20V527.30L56.90 530.50L57.70 533.50L59.20 538.00L60.00 543.90H71.50V543.90L73.00 545.80H73.00V549.20H244.00V549.20" fill="none" stroke="#1F5C99" stroke-width="1.40"/>
<path d="M48.90 501.20 V667.80 H247.50" fill="none" stroke="#231F20" stroke-width="1.6"/>
<path d="M45.40 506.00 H48.90" stroke="#231F20" stroke-width="1.1"/>
<text x="30.30" y="508.80" font-size="8.14" font-weight="normal" fill="#1c1c1c" stroke="#1c1c1c" stroke-width="0.20" textLength="12.00" lengthAdjust="spacingAndGlyphs">100</text>
<path d="M45.40 546.45 H48.90" stroke="#231F20" stroke-width="1.1"/>
<text x="34.30" y="549.25" font-size="8.14" font-weight="normal" fill="#1c1c1c" stroke="#1c1c1c" stroke-width="0.20" textLength="8.00" lengthAdjust="spacingAndGlyphs">75</text>
<path d="M45.40 586.90 H48.90" stroke="#231F20" stroke-width="1.1"/>
<text x="34.30" y="589.70" font-size="8.14" font-weight="normal" fill="#1c1c1c" stroke="#1c1c1c" stroke-width="0.20" textLength="8.00" lengthAdjust="spacingAndGlyphs">50</text>
<path d="M45.40 627.35 H48.90" stroke="#231F20" stroke-width="1.1"/>
<text x="34.30" y="630.15" font-size="8.14" font-weight="normal" fill="#1c1c1c" stroke="#1c1c1c" stroke-width="0.20" textLength="8.00" lengthAdjust="spacingAndGlyphs">25</text>
<path d="M45.40 667.80 H48.90" stroke="#231F20" stroke-width="1.1"/>
<text x="38.10" y="670.60" font-size="8.14" font-weight="normal" fill="#1c1c1c" stroke="#1c1c1c" stroke-width="0.20" textLength="4.20" lengthAdjust="spacingAndGlyphs">0</text>
<path d="M48.75 667.80 V670.80" stroke="#231F20" stroke-width="1.1"/>
<text x="46.55" y="680.40" font-size="8.14" font-weight="normal" fill="#1c1c1c" stroke="#1c1c1c" stroke-width="0.20" textLength="4.40" lengthAdjust="spacingAndGlyphs">0</text>
<path d="M68.25 667.80 V670.80" stroke="#231F20" stroke-width="1.1"/>
<text x="66.05" y="680.40" font-size="8.14" font-weight="normal" fill="#1c1c1c" stroke="#1c1c1c" stroke-width="0.20" textLength="4.40" lengthAdjust="spacingAndGlyphs">6</text>
<path d="M87.75 667.80 V670.80" stroke="#231F20" stroke-width="1.1"/>
<text x="83.60" y="680.40" font-size="8.14" font-weight="normal" fill="#1c1c1c" stroke="#1c1c1c" stroke-width="0.20" textLength="8.30" lengthAdjust="spacingAndGlyphs">12</text>
<path d="M107.25 667.80 V670.80" stroke="#231F20" stroke-width="1.1"/>
<text x="103.10" y="680.40" font-size="8.14" font-weight="normal" fill="#1c1c1c" stroke="#1c1c1c" stroke-width="0.20" textLength="8.30" lengthAdjust="spacingAndGlyphs">18</text>
<path d="M126.75 667.80 V670.80" stroke="#231F20" stroke-width="1.1"/>
<text x="122.60" y="680.40" font-size="8.14" font-weight="normal" fill="#1c1c1c" stroke="#1c1c1c" stroke-width="0.20" textLength="8.30" lengthAdjust="spacingAndGlyphs">24</text>
<path d="M146.25 667.80 V670.80" stroke="#231F20" stroke-width="1.1"/>
<text x="142.10" y="680.40" font-size="8.14" font-weight="normal" fill="#1c1c1c" stroke="#1c1c1c" stroke-width="0.20" textLength="8.30" lengthAdjust="spacingAndGlyphs">30</text>
<path d="M165.75 667.80 V670.80" stroke="#231F20" stroke-width="1.1"/>
<text x="161.60" y="680.40" font-size="8.14" font-weight="normal" fill="#1c1c1c" stroke="#1c1c1c" stroke-width="0.20" textLength="8.30" lengthAdjust="spacingAndGlyphs">36</text>
<path d="M185.25 667.80 V670.80" stroke="#231F20" stroke-width="1.1"/>
<text x="181.10" y="680.40" font-size="8.14" font-weight="normal" fill="#1c1c1c" stroke="#1c1c1c" stroke-width="0.20" textLength="8.30" lengthAdjust="spacingAndGlyphs">42</text>
<path d="M204.75 667.80 V670.80" stroke="#231F20" stroke-width="1.1"/>
<text x="200.60" y="680.40" font-size="8.14" font-weight="normal" fill="#1c1c1c" stroke="#1c1c1c" stroke-width="0.20" textLength="8.30" lengthAdjust="spacingAndGlyphs">48</text>
<path d="M224.25 667.80 V670.80" stroke="#231F20" stroke-width="1.1"/>
<text x="220.10" y="680.40" font-size="8.14" font-weight="normal" fill="#1c1c1c" stroke="#1c1c1c" stroke-width="0.20" textLength="8.30" lengthAdjust="spacingAndGlyphs">54</text>
<path d="M243.75 667.80 V670.80" stroke="#231F20" stroke-width="1.1"/>
<text x="239.60" y="680.40" font-size="8.14" font-weight="normal" fill="#1c1c1c" stroke="#1c1c1c" stroke-width="0.20" textLength="8.30" lengthAdjust="spacingAndGlyphs">60</text>
<text transform="translate(24.60 620.60) rotate(-90)" x="0" y="0" font-size="10.17" fill="#1c1c1c" stroke="#1c1c1c" stroke-width="0.20" textLength="68.10" lengthAdjust="spacingAndGlyphs">Survival probability</text>
<text x="204.60" y="607.45" font-size="7.56" font-weight="normal" fill="#1c1c1c" stroke="#1c1c1c" stroke-width="0.20" textLength="27.50" lengthAdjust="spacingAndGlyphs">p=0.759</text>
<path d="M190.40 615.95 H201.20" stroke="#C8102E" stroke-width="1.5"/>
<text x="204.60" y="618.70" font-size="7.70" font-weight="normal" fill="#1c1c1c" stroke="#1c1c1c" stroke-width="0.20" textLength="31.20" lengthAdjust="spacingAndGlyphs">Age &lt;5 y</text>
<path d="M190.40 627.20 H201.20" stroke="#1F5C99" stroke-width="1.5"/>
<text x="204.60" y="629.95" font-size="7.70" font-weight="normal" fill="#1c1c1c" stroke="#1c1c1c" stroke-width="0.20" textLength="31.20" lengthAdjust="spacingAndGlyphs">Age ≥5 y</text>
<text x="43.65" y="693.55" font-size="6.69" font-weight="normal" fill="#1c1c1c" stroke="#1c1c1c" stroke-width="0.08" textLength="10.20" lengthAdjust="spacingAndGlyphs">146</text>
<text x="63.15" y="693.55" font-size="6.69" font-weight="normal" fill="#1c1c1c" stroke="#1c1c1c" stroke-width="0.08" textLength="10.20" lengthAdjust="spacingAndGlyphs">114</text>
<text x="82.65" y="693.55" font-size="6.69" font-weight="normal" fill="#1c1c1c" stroke="#1c1c1c" stroke-width="0.08" textLength="10.20" lengthAdjust="spacingAndGlyphs">104</text>
<text x="103.85" y="693.55" font-size="6.69" font-weight="normal" fill="#1c1c1c" stroke="#1c1c1c" stroke-width="0.08" textLength="6.80" lengthAdjust="spacingAndGlyphs">94</text>
<text x="123.35" y="693.55" font-size="6.69" font-weight="normal" fill="#1c1c1c" stroke="#1c1c1c" stroke-width="0.08" textLength="6.80" lengthAdjust="spacingAndGlyphs">84</text>
<text x="142.85" y="693.55" font-size="6.69" font-weight="normal" fill="#1c1c1c" stroke="#1c1c1c" stroke-width="0.08" textLength="6.80" lengthAdjust="spacingAndGlyphs">72</text>
<text x="162.35" y="693.55" font-size="6.69" font-weight="normal" fill="#1c1c1c" stroke="#1c1c1c" stroke-width="0.08" textLength="6.80" lengthAdjust="spacingAndGlyphs">63</text>
<text x="181.85" y="693.55" font-size="6.69" font-weight="normal" fill="#1c1c1c" stroke="#1c1c1c" stroke-width="0.08" textLength="6.80" lengthAdjust="spacingAndGlyphs">60</text>
<text x="201.35" y="693.55" font-size="6.69" font-weight="normal" fill="#1c1c1c" stroke="#1c1c1c" stroke-width="0.08" textLength="6.80" lengthAdjust="spacingAndGlyphs">51</text>
<text x="220.85" y="693.55" font-size="6.69" font-weight="normal" fill="#1c1c1c" stroke="#1c1c1c" stroke-width="0.08" textLength="6.80" lengthAdjust="spacingAndGlyphs">42</text>
<text x="240.35" y="693.55" font-size="6.69" font-weight="normal" fill="#1c1c1c" stroke="#1c1c1c" stroke-width="0.08" textLength="6.80" lengthAdjust="spacingAndGlyphs">37</text>
<text x="17.00" y="693.55" font-size="6.35" font-weight="normal" fill="#1c1c1c" stroke="#1c1c1c" stroke-width="0.05" textLength="22.25" lengthAdjust="spacingAndGlyphs">Age &lt;5 y:</text>
<text x="45.35" y="703.55" font-size="6.69" font-weight="normal" fill="#1c1c1c" stroke="#1c1c1c" stroke-width="0.08" textLength="6.80" lengthAdjust="spacingAndGlyphs">30</text>
<text x="64.85" y="703.55" font-size="6.69" font-weight="normal" fill="#1c1c1c" stroke="#1c1c1c" stroke-width="0.08" textLength="6.80" lengthAdjust="spacingAndGlyphs">23</text>
<text x="84.35" y="703.55" font-size="6.69" font-weight="normal" fill="#1c1c1c" stroke="#1c1c1c" stroke-width="0.08" textLength="6.80" lengthAdjust="spacingAndGlyphs">20</text>
<text x="103.85" y="703.55" font-size="6.69" font-weight="normal" fill="#1c1c1c" stroke="#1c1c1c" stroke-width="0.08" textLength="6.80" lengthAdjust="spacingAndGlyphs">19</text>
<text x="123.35" y="703.55" font-size="6.69" font-weight="normal" fill="#1c1c1c" stroke="#1c1c1c" stroke-width="0.08" textLength="6.80" lengthAdjust="spacingAndGlyphs">15</text>
<text x="142.85" y="703.55" font-size="6.69" font-weight="normal" fill="#1c1c1c" stroke="#1c1c1c" stroke-width="0.08" textLength="6.80" lengthAdjust="spacingAndGlyphs">11</text>
<text x="162.35" y="703.55" font-size="6.69" font-weight="normal" fill="#1c1c1c" stroke="#1c1c1c" stroke-width="0.08" textLength="6.80" lengthAdjust="spacingAndGlyphs">10</text>
<text x="183.55" y="703.55" font-size="6.69" font-weight="normal" fill="#1c1c1c" stroke="#1c1c1c" stroke-width="0.08" textLength="3.40" lengthAdjust="spacingAndGlyphs">9</text>
<text x="203.05" y="703.55" font-size="6.69" font-weight="normal" fill="#1c1c1c" stroke="#1c1c1c" stroke-width="0.08" textLength="3.40" lengthAdjust="spacingAndGlyphs">8</text>
<text x="222.55" y="703.55" font-size="6.69" font-weight="normal" fill="#1c1c1c" stroke="#1c1c1c" stroke-width="0.08" textLength="3.40" lengthAdjust="spacingAndGlyphs">7</text>
<text x="242.05" y="703.55" font-size="6.69" font-weight="normal" fill="#1c1c1c" stroke="#1c1c1c" stroke-width="0.08" textLength="3.40" lengthAdjust="spacingAndGlyphs">6</text>
<text x="17.00" y="703.55" font-size="6.35" font-weight="normal" fill="#1c1c1c" stroke="#1c1c1c" stroke-width="0.05" textLength="22.25" lengthAdjust="spacingAndGlyphs">Age ≥5 y:</text>
<text x="271.25" y="490.90" font-size="11.77" font-weight="bold" fill="#000" stroke="#000" stroke-width="0.35" textLength="6.75" lengthAdjust="spacingAndGlyphs">F</text>
<text x="374.00" y="497.50" font-size="9.88" font-weight="bold" fill="#111" stroke="#111" stroke-width="0.20" textLength="75.00" lengthAdjust="spacingAndGlyphs">GRFS hazard ratio</text>
<path d="M312.20 501.25 V667.40 H511.25" fill="none" stroke="#231F20" stroke-width="1.6"/>
<path d="M309.00 505.93 H312.20" stroke="#231F20" stroke-width="1.1"/>
<text x="291.00" y="508.53" font-size="7.99" font-weight="normal" fill="#1c1c1c" stroke="#1c1c1c" stroke-width="0.20" textLength="15.00" lengthAdjust="spacingAndGlyphs">20.0</text>
<path d="M309.00 526.25 H312.20" stroke="#231F20" stroke-width="1.1"/>
<text x="291.00" y="528.85" font-size="7.99" font-weight="normal" fill="#1c1c1c" stroke="#1c1c1c" stroke-width="0.20" textLength="15.00" lengthAdjust="spacingAndGlyphs">10.0</text>
<path d="M309.00 546.57 H312.20" stroke="#231F20" stroke-width="1.1"/>
<text x="295.00" y="549.17" font-size="7.99" font-weight="normal" fill="#1c1c1c" stroke="#1c1c1c" stroke-width="0.20" textLength="11.00" lengthAdjust="spacingAndGlyphs">5.0</text>
<path d="M309.00 573.43 H312.20" stroke="#231F20" stroke-width="1.1"/>
<text x="295.00" y="576.03" font-size="7.99" font-weight="normal" fill="#1c1c1c" stroke="#1c1c1c" stroke-width="0.20" textLength="11.00" lengthAdjust="spacingAndGlyphs">2.0</text>
<path d="M309.00 593.75 H312.20" stroke="#231F20" stroke-width="1.1"/>
<text x="295.00" y="596.35" font-size="7.99" font-weight="normal" fill="#1c1c1c" stroke="#1c1c1c" stroke-width="0.20" textLength="11.00" lengthAdjust="spacingAndGlyphs">1.0</text>
<path d="M309.00 614.07 H312.20" stroke="#231F20" stroke-width="1.1"/>
<text x="295.00" y="616.67" font-size="7.99" font-weight="normal" fill="#1c1c1c" stroke="#1c1c1c" stroke-width="0.20" textLength="11.00" lengthAdjust="spacingAndGlyphs">0.5</text>
<path d="M309.00 640.93 H312.20" stroke="#231F20" stroke-width="1.1"/>
<text x="295.00" y="643.53" font-size="7.99" font-weight="normal" fill="#1c1c1c" stroke="#1c1c1c" stroke-width="0.20" textLength="11.00" lengthAdjust="spacingAndGlyphs">0.2</text>
<path d="M309.00 661.25 H312.20" stroke="#231F20" stroke-width="1.1"/>
<text x="295.00" y="663.85" font-size="7.99" font-weight="normal" fill="#1c1c1c" stroke="#1c1c1c" stroke-width="0.20" textLength="11.00" lengthAdjust="spacingAndGlyphs">0.1</text>
<path d="M318.20 667.40 V670.20" stroke="#231F20" stroke-width="1.1"/>
<text x="316.30" y="680.40" font-size="8.43" font-weight="normal" fill="#1c1c1c" stroke="#1c1c1c" stroke-width="0.20" textLength="3.80" lengthAdjust="spacingAndGlyphs">0</text>
<path d="M349.65 667.40 V670.20" stroke="#231F20" stroke-width="1.1"/>
<text x="347.75" y="680.40" font-size="8.43" font-weight="normal" fill="#1c1c1c" stroke="#1c1c1c" stroke-width="0.20" textLength="3.80" lengthAdjust="spacingAndGlyphs">5</text>
<path d="M381.10 667.40 V670.20" stroke="#231F20" stroke-width="1.1"/>
<text x="376.95" y="680.40" font-size="8.43" font-weight="normal" fill="#1c1c1c" stroke="#1c1c1c" stroke-width="0.20" textLength="8.30" lengthAdjust="spacingAndGlyphs">10</text>
<path d="M412.55 667.40 V670.20" stroke="#231F20" stroke-width="1.1"/>
<text x="408.40" y="680.40" font-size="8.43" font-weight="normal" fill="#1c1c1c" stroke="#1c1c1c" stroke-width="0.20" textLength="8.30" lengthAdjust="spacingAndGlyphs">15</text>
<path d="M444.00 667.40 V670.20" stroke="#231F20" stroke-width="1.1"/>
<text x="439.85" y="680.40" font-size="8.43" font-weight="normal" fill="#1c1c1c" stroke="#1c1c1c" stroke-width="0.20" textLength="8.30" lengthAdjust="spacingAndGlyphs">20</text>
<path d="M475.45 667.40 V670.20" stroke="#231F20" stroke-width="1.1"/>
<text x="471.30" y="680.40" font-size="8.43" font-weight="normal" fill="#1c1c1c" stroke="#1c1c1c" stroke-width="0.20" textLength="8.30" lengthAdjust="spacingAndGlyphs">25</text>
<path d="M506.90 667.40 V670.20" stroke="#231F20" stroke-width="1.1"/>
<text x="502.75" y="680.40" font-size="8.43" font-weight="normal" fill="#1c1c1c" stroke="#1c1c1c" stroke-width="0.20" textLength="8.30" lengthAdjust="spacingAndGlyphs">30</text>
<text transform="translate(285.20 611.40) rotate(-90)" x="0" y="0" font-size="10.17" fill="#1c1c1c" stroke="#1c1c1c" stroke-width="0.20" textLength="53.70" lengthAdjust="spacingAndGlyphs">Relative hazard</text>
<text x="396.25" y="693.00" font-size="9.88" font-weight="normal" fill="#1c1c1c" stroke="#1c1c1c" stroke-width="0.25" textLength="31.25" lengthAdjust="spacingAndGlyphs">Age at Tx</text>
<path d="M320.70 585.20 C322.75 586.08 328.68 588.77 333.00 590.50 C337.32 592.23 342.10 594.10 346.60 595.60 C351.10 597.10 355.77 598.42 360.00 599.50 C364.23 600.58 366.67 601.02 372.00 602.10 C377.33 603.18 385.05 604.53 392.00 606.00 C398.95 607.47 407.25 610.40 413.70 610.90 C420.15 611.40 425.82 609.43 430.70 609.00 C435.58 608.57 439.82 608.87 443.00 608.30 C446.18 607.73 447.02 607.28 449.80 605.60 C452.58 603.92 456.42 601.28 459.70 598.20 C462.98 595.12 466.23 591.62 469.50 587.10 C472.77 582.58 476.02 576.42 479.30 571.10 C482.58 565.78 484.68 562.65 489.20 555.20 C493.72 547.75 503.53 531.20 506.40 526.40" fill="none" stroke="#C8102E" stroke-width="1.5"/>
<path d="M320.70 573.10 C321.58 574.25 324.08 577.88 326.00 580.00 C327.92 582.12 330.20 585.05 332.20 585.80 C334.20 586.55 335.60 585.08 338.00 584.50 C340.40 583.92 342.93 583.13 346.60 582.30 C350.27 581.47 355.77 580.32 360.00 579.50 C364.23 578.68 366.92 578.65 372.00 577.40 C377.08 576.15 383.55 573.37 390.50 572.00 C397.45 570.63 405.45 569.80 413.70 569.20 C421.95 568.60 433.57 569.30 440.00 568.40 C446.43 567.50 448.20 566.00 452.30 563.80 C456.40 561.60 461.53 558.48 464.60 555.20 C467.67 551.92 468.65 548.82 470.70 544.10 C472.75 539.38 474.85 532.43 476.90 526.90 C478.95 521.37 481.15 515.42 483.00 510.90 C484.85 506.38 487.17 501.65 488.00 499.80" fill="none" stroke="#C8102E" stroke-width="1.45" stroke-dasharray="2.4 2.0"/>
<path d="M320.70 596.70 C321.33 596.33 323.17 595.17 324.50 594.50 C325.83 593.83 327.12 592.37 328.70 592.70 C330.28 593.03 331.98 594.78 334.00 596.50 C336.02 598.22 338.13 600.67 340.80 603.00 C343.47 605.33 345.57 607.03 350.00 610.50 C354.43 613.97 363.73 620.95 367.40 623.80 C371.07 626.65 368.15 624.78 372.00 627.60 C375.85 630.42 383.55 636.58 390.50 640.70 C397.45 644.82 405.72 650.67 413.70 652.30 C421.68 653.93 431.97 651.73 438.40 650.50 C444.83 649.27 447.93 647.48 452.30 644.90 C456.67 642.32 460.50 638.07 464.60 635.00 C468.70 631.93 472.80 629.57 476.90 626.50 C481.00 623.43 484.28 620.70 489.20 616.60 C494.12 612.50 503.53 604.35 506.40 601.90" fill="none" stroke="#C8102E" stroke-width="1.45" stroke-dasharray="2.4 2.0"/>
<rect x="0.5" y="0.5" width="519" height="711" fill="none" stroke="#000" stroke-width="1.2"/>
</svg></body></html>
